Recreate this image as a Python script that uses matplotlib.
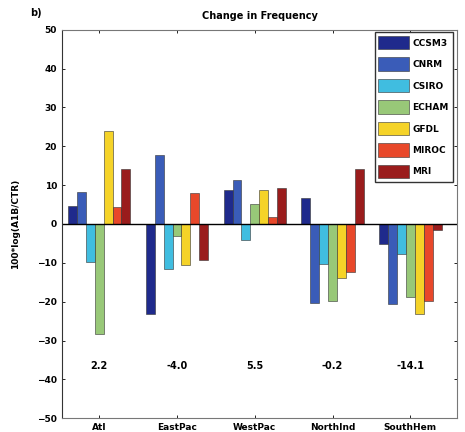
import matplotlib
matplotlib.use("Agg")
import matplotlib.pyplot as plt
import numpy as np

regions = ["Atl", "EastPac", "WestPac", "NorthInd", "SouthHem"]
models = ["CCSM3", "CNRM", "CSIRO", "ECHAM", "GFDL", "MIROC", "MRI"]
colors = ["#1f2a8c", "#3a5cb8", "#40bde0", "#98c878", "#f5d328", "#e8482a", "#9a1c1c"]

CCSM3 = [4.6, -23.3, 8.8, 6.6, -5.2]
CNRM = [8.3, 17.8, 11.2, -20.4, -20.6]
CSIRO = [-9.9, -11.7, -4.1, -10.4, -7.7]
ECHAM = [-28.4, -3.1, 5.1, -19.8, -18.9]
GFDL = [24.0, -10.6, 8.7, -14.0, -23.2]
MIROC = [4.5, 8.0, 1.7, -12.3, -19.8]
MRI = [14.2, -9.4, 9.2, 14.2, -1.5]
series = [CCSM3, CNRM, CSIRO, ECHAM, GFDL, MIROC, MRI]

means = ["2.2", "-4.0", "5.5", "-0.2", "-14.1"]

fig = plt.figure(figsize=(4.65, 4.32), dpi=100)
ax = fig.add_axes([0.133, 0.032, 0.850, 0.899])

x = np.arange(1, len(regions) + 1)
w = 0.8 / len(models)
for i, (m, vals, c) in enumerate(zip(models, series, colors)):
    ax.bar(x + (i - 3) * w, vals, width=w, color=c, edgecolor="#333333",
           linewidth=0.4, label=m)

ax.axhline(0, color="black", linewidth=1.0)
for xi, t in zip(x, means):
    ax.text(xi, -36.5, t, ha="center", va="center", fontsize=7, fontweight="bold")

ax.set_xlim(0.52, 5.6)
ax.set_ylim(-50, 50)
ax.set_yticks(np.arange(-50, 51, 10))
ax.set_xticks(x)
ax.set_xticklabels(regions, fontsize=6.5, fontweight="bold")
ax.tick_params(axis="both", labelsize=6.5, length=2, width=0.6, top=True, right=True,
               direction="in")
for lbl in ax.get_yticklabels():
    lbl.set_fontweight("bold")
for s in ax.spines.values():
    s.set_color("#777777")
    s.set_linewidth(0.8)
ax.spines["left"].set_color("#333333")

ax.set_ylabel("100*log(A1B/CTR)", fontsize=6.5, fontweight="bold", labelpad=12)
ax.set_title("Change in Frequency", fontsize=7, fontweight="bold", pad=8)
fig.text(0.065, 0.97, "b)", fontsize=7, fontweight="bold", va="center")

leg = ax.legend(loc="upper right", bbox_to_anchor=(1.0, 1.005), fontsize=6.5,
                handlelength=3.4, handleheight=1.9, labelspacing=0.9,
                borderpad=0.4, handletextpad=0.4, fancybox=False, framealpha=1,
                edgecolor="#333333")
for t in leg.get_texts():
    t.set_fontweight("bold")

fig.savefig("out.png", dpi=100)
